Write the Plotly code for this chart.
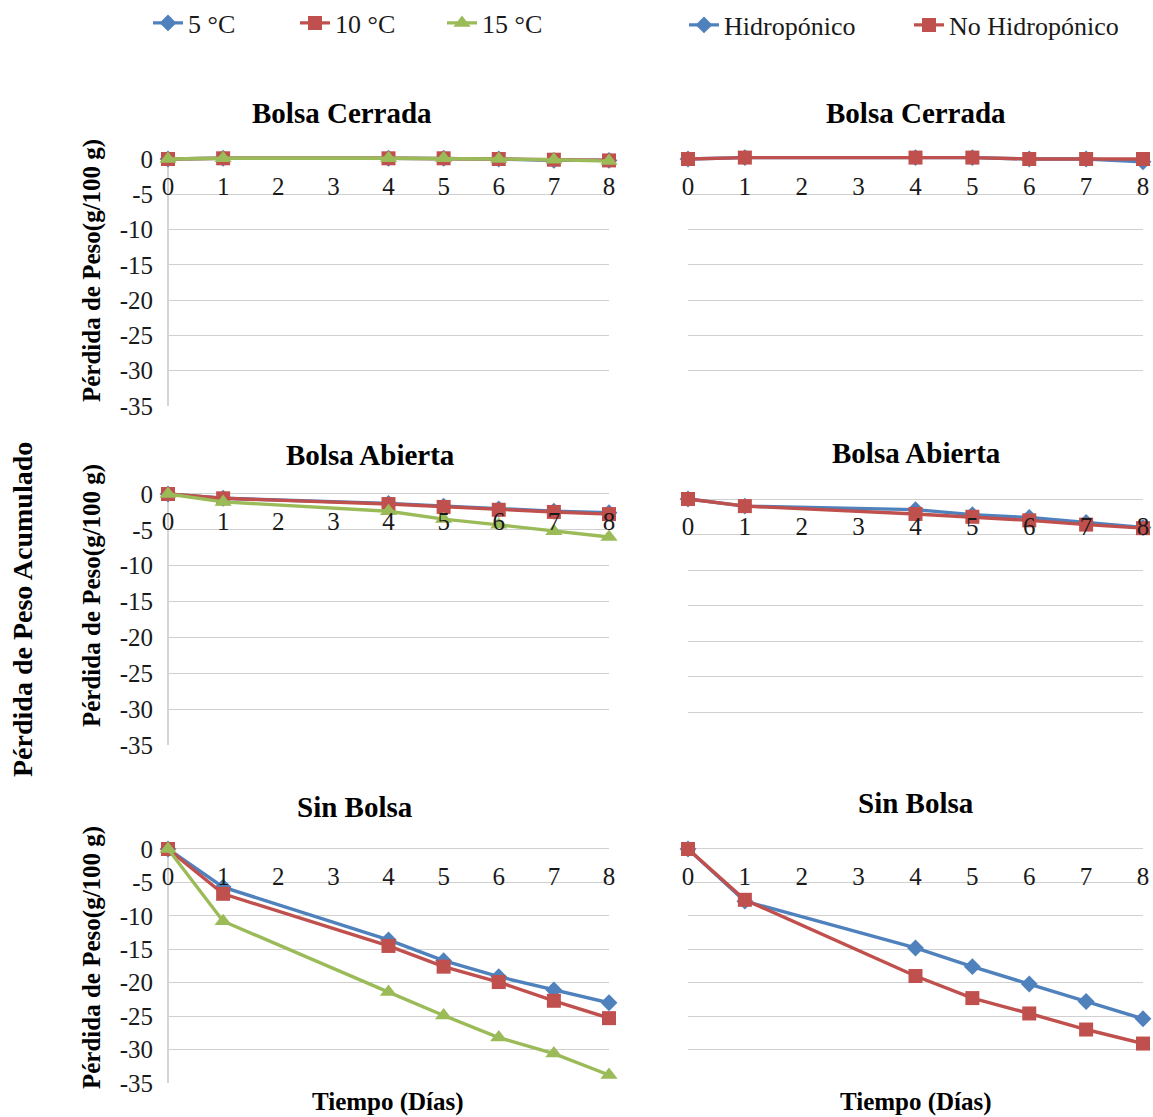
import plotly.graph_objects as go

# ---- data: accumulated weight loss (g/100 g) ----
days = [0, 1, 4, 5, 6, 7, 8]
x_ticks = [0, 1, 2, 3, 4, 5, 6, 7, 8]
y_ticks = [0, -5, -10, -15, -20, -25, -30, -35]

# temperature series (left column)
cerrada_5 = [0, 0.1, 0.1, 0.1, 0.0, -0.2, -0.2]
cerrada_10 = [0, 0.1, 0.1, 0.1, 0.0, -0.1, -0.2]
cerrada_15 = [0, 0.1, 0.1, 0.1, 0.0, -0.1, -0.3]

abierta_5 = [0, -0.6, -1.3, -1.7, -2.1, -2.4, -2.6]
abierta_10 = [0, -0.6, -1.4, -1.8, -2.2, -2.5, -2.8]
abierta_15 = [0, -1.1, -2.4, -3.5, -4.3, -5.2, -6.0]

sin_5 = [0, -5.7, -13.6, -16.7, -19.1, -21.1, -23.0]
sin_10 = [0, -6.7, -14.5, -17.6, -19.9, -22.7, -25.3]
sin_15 = [0, -10.8, -21.4, -24.9, -28.2, -30.6, -33.8]

# cultivation series (right column)
cerrada_hid = [0, 0.2, 0.2, 0.2, 0.0, 0.0, -0.4]
cerrada_nohid = [0, 0.2, 0.2, 0.2, 0.0, 0.0, 0.0]

abierta_hid = [0, -1.0, -1.5, -2.2, -2.6, -3.3, -4.0]
abierta_nohid = [0, -1.0, -2.1, -2.5, -3.0, -3.6, -4.1]

sin_hid = [0, -7.8, -14.8, -17.6, -20.2, -22.8, -25.4]
sin_nohid = [0, -7.6, -19.0, -22.3, -24.6, -27.0, -29.1]

temp_names = ["5 °C", "10 °C", "15 °C"]
cult_names = ["Hidropónico", "No Hidropónico"]
panel_titles = ["Bolsa Cerrada", "Bolsa Abierta", "Sin Bolsa"]

# ---- styling ----
W, H = 1153, 1117
FONT = "Liberation Serif"
BLUE, RED, GREEN = "#4F81BD", "#C0504D", "#9BBB59"
GRID = "#d0d0d0"
Y_MIN, Y_MAX = -35, 0.6   # small headroom so points at/above zero stay visible
styles = [
    dict(color=BLUE, symbol="diamond", size=13),
    dict(color=RED, symbol="square", size=14),
    dict(color=GREEN, symbol="triangle-up", size=15),
]


def fx(px):
    return px / W


def fy(px):
    return 1 - px / H


# panel geometry in pixels: (x_left, x_right, y_of_zero, y_of_minus35)
left_cols = [(168, 609, 159, 406), (168, 609, 494, 745), (168, 609, 849, 1083)]
right_cols = [(688, 1143, 159, 406), (688, 1143, 499, 748), (688, 1143, 849, 1083)]

left_data = [
    [cerrada_5, cerrada_10, cerrada_15],
    [abierta_5, abierta_10, abierta_15],
    [sin_5, sin_10, sin_15],
]
right_data = [
    [cerrada_hid, cerrada_nohid],
    [abierta_hid, abierta_nohid],
    [sin_hid, sin_nohid],
]

fig = go.Figure()
layout = {}
annotations = []
ax = 0


def add_axes(idx, geom, left_side):
    x0, x1, y0, y1 = geom
    px_per_unit = (y1 - y0) / (0 - Y_MIN)
    y_top = y0 - Y_MAX * px_per_unit
    xk = "xaxis" if idx == 1 else f"xaxis{idx}"
    yk = "yaxis" if idx == 1 else f"yaxis{idx}"
    layout[xk] = dict(
        domain=[fx(x0), fx(x1)],
        range=[0, 8],
        anchor="free",
        position=fy(y0),
        side="bottom",
        tickvals=x_ticks,
        ticktext=[str(v) for v in x_ticks],
        showgrid=False,
        zeroline=False,
        showline=False,
        ticks="",
        ticklabelstandoff=10,
        tickfont=dict(family=FONT, size=25, color="#1a1a1a"),
        fixedrange=True,
    )
    layout[yk] = dict(
        domain=[fy(y1), fy(y_top)],
        range=[Y_MIN, Y_MAX],
        anchor="x" if idx == 1 else f"x{idx}",
        tickvals=y_ticks,
        ticktext=[str(v) for v in y_ticks],
        showticklabels=left_side,
        showgrid=True,
        gridcolor=GRID,
        gridwidth=1.3,
        zeroline=False,
        showline=False,
        ticks="",
        ticklabelstandoff=14,
        tickfont=dict(family=FONT, size=25, color="#1a1a1a"),
        fixedrange=True,
    )
    if left_side:
        # vertical axis line from 0 down to -35
        fig.add_shape(
            type="line", xref=f"x{'' if idx == 1 else idx} domain",
            yref="y" if idx == 1 else f"y{idx}",
            x0=0, x1=0, y0=Y_MIN, y1=0,
            line=dict(color="#bfbfbf", width=1.3), layer="below",
        )


for r in range(3):
    # left column: temperature series
    ax += 1
    add_axes(ax, left_cols[r], True)
    xa = "x" if ax == 1 else f"x{ax}"
    ya = "y" if ax == 1 else f"y{ax}"
    for s, vals in enumerate(left_data[r]):
        st = styles[s]
        fig.add_trace(go.Scatter(
            x=days, y=vals, xaxis=xa, yaxis=ya, mode="lines+markers",
            name=temp_names[s], legend="legend", showlegend=(r == 2),
            line=dict(color=st["color"], width=3.4),
            marker=dict(symbol=st["symbol"], size=st["size"], color=st["color"]),
            cliponaxis=False,
        ))
    # right column: cultivation series
    ax += 1
    add_axes(ax, right_cols[r], False)
    xa = f"x{ax}"
    ya = f"y{ax}"
    for s, vals in enumerate(right_data[r]):
        st = styles[s]
        fig.add_trace(go.Scatter(
            x=days, y=vals, xaxis=xa, yaxis=ya, mode="lines+markers",
            name=cult_names[s], legend="legend2", showlegend=(r == 2),
            line=dict(color=st["color"], width=3.4),
            marker=dict(symbol=st["symbol"], size=st["size"], color=st["color"]),
            cliponaxis=False,
        ))

# panel titles
left_title_pos = [(342, 113), (370, 455), (355, 807)]
right_title_pos = [(916, 113), (916, 453), (916, 803)]
for r in range(3):
    for (px, py) in (left_title_pos[r], right_title_pos[r]):
        annotations.append(dict(
            text=f"<b>{panel_titles[r]}</b>", x=fx(px), y=fy(py),
            xref="paper", yref="paper", showarrow=False,
            xanchor="center", yanchor="middle",
            font=dict(family=FONT, size=29, color="#000"),
        ))

# per-panel y titles (left column)
for py in (271, 596, 958):
    annotations.append(dict(
        text="<b>Pérdida de Peso(g/100 g)</b>", x=fx(92), y=fy(py),
        xref="paper", yref="paper", showarrow=False, textangle=-90,
        xanchor="center", yanchor="middle",
        font=dict(family=FONT, size=25, color="#000"),
    ))

# shared y title
annotations.append(dict(
    text="<b>Pérdida de Peso Acumulado</b>", x=fx(22), y=fy(610),
    xref="paper", yref="paper", showarrow=False, textangle=-90,
    xanchor="center", yanchor="middle",
    font=dict(family=FONT, size=28, color="#000"),
))

# x titles
for px in (388, 916):
    annotations.append(dict(
        text="<b>Tiempo (Días)</b>", x=fx(px), y=fy(1102),
        xref="paper", yref="paper", showarrow=False,
        xanchor="center", yanchor="middle",
        font=dict(family=FONT, size=25, color="#000"),
    ))

legend_font = dict(family=FONT, size=26, color="#1a1a1a")
layout["legend"] = dict(
    orientation="h", xref="container", yref="container",
    x=fx(148), y=fy(23), xanchor="left", yanchor="middle",
    font=legend_font, bgcolor="rgba(0,0,0,0)", entrywidth=102,
)
layout["legend2"] = dict(
    orientation="h", xref="container", yref="container",
    x=fx(684), y=fy(25), xanchor="left", yanchor="middle",
    font=legend_font, bgcolor="rgba(0,0,0,0)", entrywidth=180,
)

fig.update_layout(
    width=W, height=H,
    margin=dict(l=0, r=0, t=0, b=0, autoexpand=False),
    paper_bgcolor="white", plot_bgcolor="white",
    annotations=annotations,
    **layout,
)

fig.write_html("out.html", config={"displayModeBar": False})
